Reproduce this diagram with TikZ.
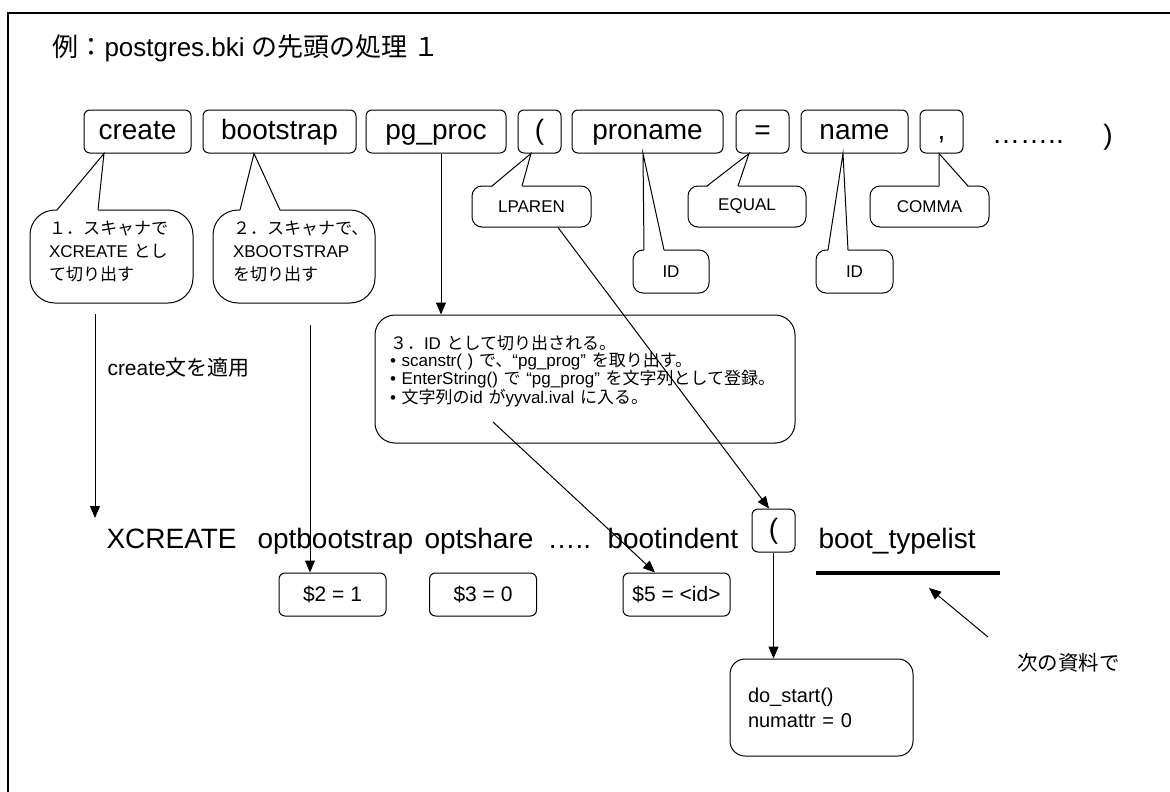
\documentclass[tikz,border=0pt]{standalone}
\usepackage{fontspec}
\setmainfont{Liberation Sans}
\newfontfamily\jpfont{Noto Sans CJK JP}
\newcommand{\ja}[1]{{\jpfont #1}}
\usetikzlibrary{arrows.meta,positioning,calc}

% pointer of a speech bubble: bubble, tip, left and right foot (offsets from bubble.north)
\newcommand{\calltail}[4]{%
  \fill[white] ([xshift=#3pt,yshift=-1.5pt]#1.north) -- (#2) -- ([xshift=#4pt,yshift=-1.5pt]#1.north) -- cycle;
  \draw ([xshift=#3pt,yshift=-0.5pt]#1.north) -- (#2) -- ([xshift=#4pt,yshift=-0.5pt]#1.north);}

\tikzset{
  tok/.style={draw, rounded corners=6pt, minimum height=43pt, inner sep=0pt,
    text height=20pt, text depth=5pt, font=\fontsize{28}{32}\selectfont},
  bubble/.style={draw, rounded corners=#1, inner sep=0pt,
    font=\fontsize{17}{23}\selectfont},
  bubble/.default=10pt,
  valbox/.style={draw, rounded corners=6pt, minimum width=107pt, minimum height=43pt,
    inner sep=0pt, font=\fontsize{21}{25}\selectfont},
  word/.style={anchor=base west, inner sep=0pt, font=\fontsize{28}{32}\selectfont},
  arr/.style={-{Triangle[length=12pt,width=10pt]}},
}

\begin{document}
\begin{tikzpicture}[x=1pt, y=-1pt, line width=1pt, node distance=11pt]
  \useasboundingbox (0,0) rectangle (1170,792);
  \draw[line width=1.3pt] (8,792) -- (8,13) -- (1170,13);

  \node[anchor=west, inner sep=0pt, font=\fontsize{26}{30}\selectfont] (title) at (52,48)
    {\ja{例：}postgres.bki \ja{の先頭の処理 １}};

  % tokens of the first line
  \node[tok, minimum width=107pt] (create) at (137.5,131.5) {create};
  \node[tok, minimum width=153pt, right=of create] (bootstrap) {bootstrap};
  \node[tok, minimum width=140pt, right=9pt of bootstrap] (pgproc) {pg\_proc};
  \node[tok, minimum width=43pt, right=of pgproc] (lp) {(};
  \node[tok, minimum width=151pt, right=10pt of lp] (proname) {proname};
  \node[tok, minimum width=53pt, right=12pt of proname] (eq) {=};
  \node[tok, minimum width=107pt, right=of eq] (name) {name};
  \node[tok, minimum width=43pt, right=of name] (comma) {,};
  \node[anchor=base, inner sep=0pt, font=\fontsize{28}{32}\selectfont] (dots) at (1028,143) {……..};
  \node[inner sep=0pt, font=\fontsize{28}{32}\selectfont] (rp) at (1108,137) {)};

  % scanner bubbles
  \node[bubble=25pt, minimum width=163pt, minimum height=93pt, text width=125pt, align=left,
    text height=15pt, text depth=59pt] (scan1) at (111.5,256.5)
    {\ja{１．スキャナで}\\XCREATE \ja{とし}\\\ja{て切り出す}};
  \node[bubble=25pt, minimum width=162pt, minimum height=93pt, text width=122pt, align=left,
    text height=15pt, text depth=59pt] (scan2) at (294,256.5)
    {\ja{２．スキャナで、}\\XBOOTSTRAP\\\ja{を切り出す}};
  \node[bubble, minimum width=119pt, minimum height=41pt] (lparen) at (531.5,206.5) {LPAREN};
  \node[bubble, minimum width=118pt, minimum height=41pt] (equal) at (747,206.5) {EQUAL};
  \node[bubble, minimum width=119pt, minimum height=41pt] (commatok) at (929.5,206.5) {COMMA};
  \node[bubble, minimum width=76pt, minimum height=43pt] (id1) at (671,271.5) {ID};
  \node[bubble, minimum width=77pt, minimum height=43pt] (id2) at (854.5,271.5) {ID};

  \calltail{scan1}{[xshift=-33.5pt]create.south}{-54.5}{-13.5}
  \calltail{scan2}{[xshift=-25.5pt]bootstrap.south}{-54}{-14}
  \calltail{lparen}{[xshift=-8.5pt]lp.south}{-39.5}{-9.5}
  \calltail{equal}{[xshift=-13.5pt]eq.south}{-40}{-9}
  \calltail{commatok}{[xshift=-2.5pt]comma.south}{9.5}{38.5}
  \calltail{id1}{[xshift=-4.5pt]proname.south}{-27}{-7}
  \calltail{id2}{[xshift=-11.5pt]name.south}{-26.5}{-6.5}

  \node[bubble=20pt, minimum width=420pt, minimum height=128pt, text width=390pt, align=left,
    font=\fontsize{17}{17}\selectfont, text height=14pt, text depth=74pt] (scanid) at (585,379)
    {\ja{３．}ID \ja{として切り出される。}\\
     • scanstr( ) \ja{で、}“pg\_prog” \ja{を取り出す。}\\
     • EnterString() \ja{で} “pg\_prog” \ja{を文字列として登録。}\\
     • \ja{文字列の}id \ja{が}yyval.ival \ja{に入る。}};

  \node[anchor=west, inner sep=0pt, font=\fontsize{21}{25}\selectfont] (apply) at (107,368)
    {create\ja{文を適用}};

  % grammar rule
  \node[word] (xcreate) at (106,548) {XCREATE};
  \node[word] (optboot) at (257,548) {optbootstrap};
  \node[word] (optshare) at (424,548) {optshare};
  \node[word] (more) at (547,548) {…..};
  \node[word] (bootident) at (607,548) {bootindent};
  \node[tok, minimum width=43pt] (lp2) at (773.5,530.5) {(};
  \node[word] (typelist) at (818,548) {boot\_typelist};
  \coordinate (ulA) at (816,573);
  \coordinate (ulB) at (1000,573);
  \draw[line width=4pt] (ulA) -- (ulB);

  \node[valbox] (v2) at (332.5,594.5) {\$2 = 1};
  \node[valbox] (v3) at (483,594.5) {\$3 = 0};
  \node[valbox] (v5) at (676.5,594.5) {\$5 = <id>};

  \node[bubble=15pt, minimum width=183pt, minimum height=97pt, text width=147pt, align=left,
    font=\fontsize{20}{25}\selectfont] (dostart) at (821.5,707.5) {do\_start()\\numattr = 0};
  \node[inner sep=0pt, font=\fontsize{20.5}{24}\selectfont] (next) at (1068.5,663) {\ja{次の資料で}};

  % arrows
  \coordinate (applyA) at (95,314);
  \coordinate (applyB) at (95,518);
  \draw[arr] (applyA) -- (applyB);
  \coordinate (scan2out) at (310,325);
  \draw[arr] (scan2out) -- (scan2out |- v2.north);
  \draw[arr] ([xshift=5pt]pgproc.south) -- ([xshift=5pt]pgproc.south |- scanid.north);
  \draw[arr] ([xshift=26.5pt]lparen.south) -- ([xshift=-4.5pt]lp2.north);
  \coordinate (idref) at (493,422);
  \draw[arr] (idref) -- ([xshift=-21.5pt]v5.north);
  \draw[arr] (lp2.south) -- (lp2.south |- dostart.north);
  \coordinate (nextfrom) at (988,637);
  \coordinate (nextto) at (929,588);
  \draw[arr] (nextfrom) -- (nextto);
\end{tikzpicture}
\end{document}
